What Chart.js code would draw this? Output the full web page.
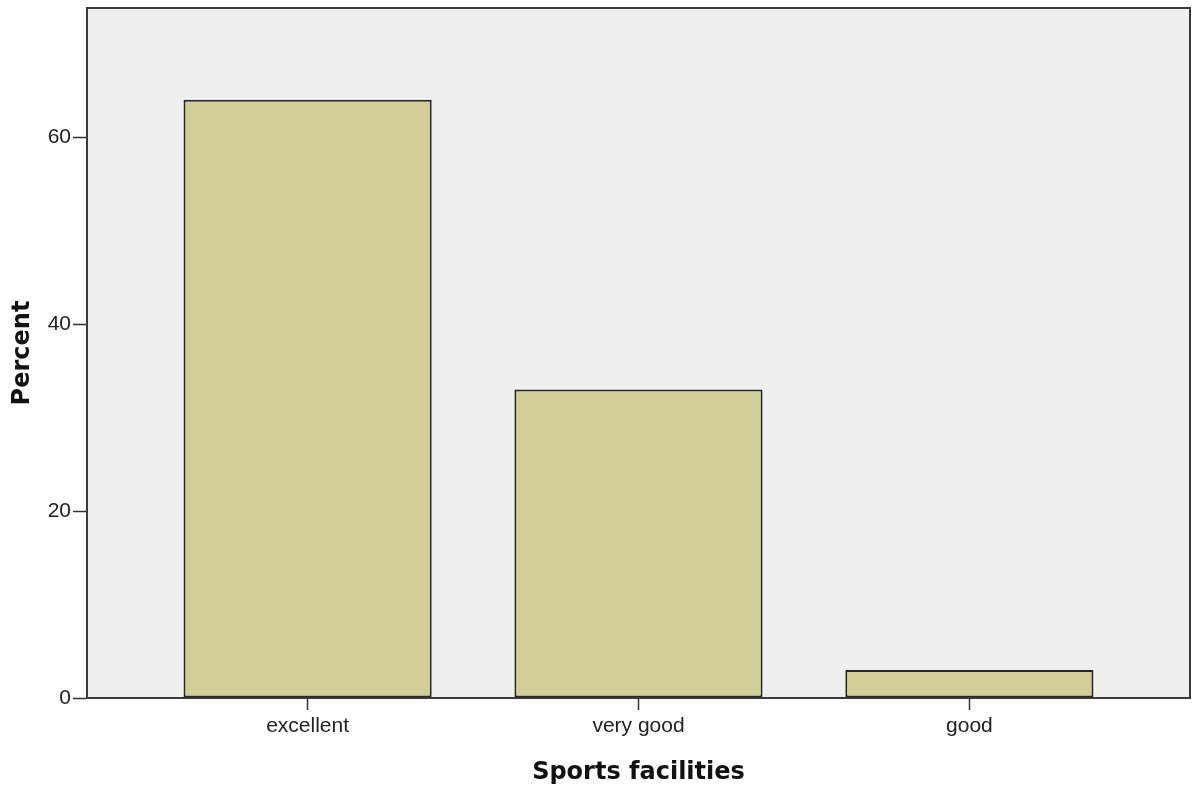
<!DOCTYPE html>
<html>
<head>
<meta charset="utf-8">
<script src="https://cdn.jsdelivr.net/npm/chart.js@4/dist/chart.umd.min.js"></script>
<style>
  html,body{margin:0;padding:0;background:#fff;}
  canvas{display:block;}
</style>
</head>
<body>
<canvas id="chart" width="1192" height="792"></canvas>
<script>
const categories = ['excellent', 'very good', 'good'];
const percents = [64.0, 33.0, 3.0];
const yTicks = [0, 20, 40, 60];

// grey plot background + box frame around the chart area
const frame = {
  id: 'frame',
  beforeDatasetsDraw(chart){
    const {ctx, chartArea:a} = chart;
    ctx.save(); ctx.fillStyle = '#efefef';
    ctx.fillRect(a.left, a.top, a.right - a.left, a.bottom - a.top);
    ctx.restore();
  },
  afterDatasetsDraw(chart){
    const {ctx, chartArea:a} = chart;
    ctx.save(); ctx.strokeStyle = '#3a3a3a'; ctx.lineWidth = 2;
    ctx.strokeRect(a.left, a.top, a.right - a.left, a.bottom - a.top);
    ctx.restore();
  }
};

const tickFont = {family:'"Liberation Sans", Arial, sans-serif', size:21};
const titleFont = {family:'"DejaVu Sans", sans-serif', size:24, weight:'bold'};

new Chart(document.getElementById('chart'), {
  type:'bar',
  data:{
    datasets:[{
      data: percents.map((v,i)=>({x:i, y:v})),
      backgroundColor:'#d3ce97',
      borderColor:'#262626',
      borderWidth:2,
      borderSkipped:false,
      barPercentage:0.75,
      categoryPercentage:1
    }]
  },
  options:{
    responsive:false,
    animation:false,
    layout:{padding:{top:8, right:2, left:0, bottom:0}},
    plugins:{legend:{display:false}, tooltip:{enabled:false}},
    scales:{
      x:{
        type:'linear',
        offset:false,
        min:-2/3, max:categories.length - 1 + 2/3,
        afterBuildTicks:s=>{ s.ticks = categories.map((c,i)=>({value:i})); },
        afterFit:s=>{ s.height = 94; s.paddingLeft = 0; s.paddingRight = 0; },
        grid:{drawOnChartArea:false, offset:false, tickLength:12, tickColor:'#333', tickWidth:1.5},
        border:{display:true, color:'#3a3a3a', width:2},
        ticks:{font:tickFont, color:'#222', padding:4, maxRotation:0, autoSkip:false,
          callback:v=>categories[v]},
        title:{display:true, text:'Sports facilities', font:titleFont, color:'#111', padding:{top:0,bottom:5}}
      },
      y:{
        min:0, max:73.8,
        afterBuildTicks:s=>{ s.ticks = yTicks.map(v=>({value:v})); },
        afterFit:s=>{ s.width = 87; s.paddingTop = 0; s.paddingBottom = 0; },
        grid:{drawOnChartArea:false, tickLength:14, tickColor:'#333', tickWidth:1.5},
        border:{display:true, color:'#3a3a3a', width:2},
        ticks:{font:tickFont, color:'#222', padding:2, autoSkip:false},
        title:{display:true, text:'Percent', font:titleFont, color:'#111', padding:{top:8,bottom:0}}
      }
    }
  },
  plugins:[frame]
});
</script>
</body>
</html>
